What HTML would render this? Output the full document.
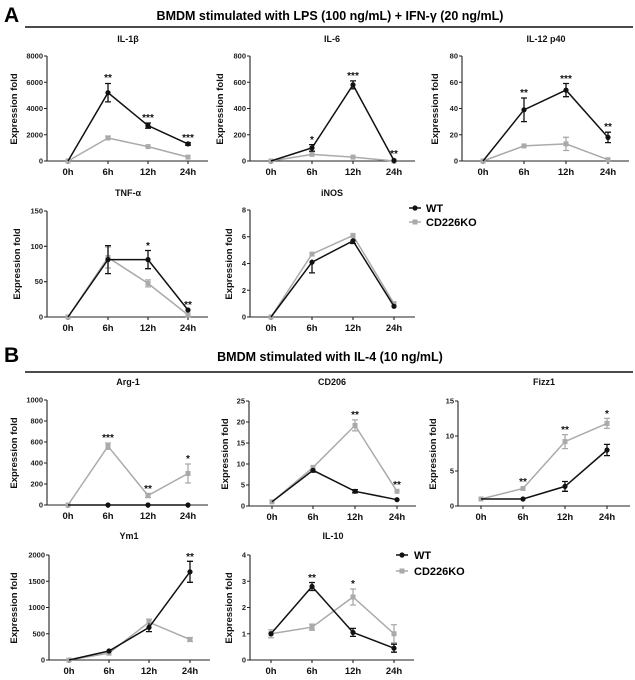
<!DOCTYPE html>
<html><head><meta charset="utf-8"><style>
body{margin:0;background:#fff}
svg{display:block;font-family:"Liberation Sans",sans-serif;font-weight:bold}
.ax{stroke:#222;stroke-width:1.1;fill:none}
.w{stroke:#111;stroke-width:1.5;fill:none}
.k{stroke:#aaa;stroke-width:1.5;fill:none}
.we{stroke:#111;stroke-width:1.3;fill:none}
.ke{stroke:#aaa;stroke-width:1.3;fill:none}
.yl{font-size:7.5px;text-anchor:end;fill:#222}
.xl{font-size:9.5px;text-anchor:middle;fill:#111}
.ti{font-size:9px;text-anchor:middle;fill:#111}
.yt{font-size:9.5px;text-anchor:middle;fill:#111}
.st{font-size:10px;text-anchor:middle;fill:#111}
.wm{fill:#111}.km{fill:#aaa}
</style></head><body>
<svg width="635" height="680" viewBox="0 0 635 680">
<!-- Header A -->
<text x="4" y="22" font-size="21">A</text>
<text x="330" y="20" font-size="12.5" text-anchor="middle">BMDM stimulated with LPS (100 ng/mL) + IFN-γ  (20 ng/mL)</text>
<line x1="25" y1="27" x2="633" y2="27" stroke="#111" stroke-width="1.5"/>
<!-- Header B -->
<text x="4" y="362" font-size="21">B</text>
<text x="330" y="361" font-size="12.5" text-anchor="middle">BMDM stimulated with IL-4 (10 ng/mL)</text>
<line x1="25" y1="372" x2="633" y2="372" stroke="#111" stroke-width="1.5"/>

<!-- IL-1b -->
<g transform="translate(47,161)">
<text class="ti" x="81" y="-119">IL-1β</text>
<path class="ax" d="M0,-105V0H161M-3,-105H0M-3,-78.75H0M-3,-52.5H0M-3,-26.25H0M-3,0H0M21,0v3M61,0v3M101,0v3M141,0v3"/>
<text class="yl" x="-4" y="-102.5">8000</text><text class="yl" x="-4" y="-76">6000</text><text class="yl" x="-4" y="-50">4000</text><text class="yl" x="-4" y="-23.5">2000</text><text class="yl" x="-4" y="2.5">0</text>
<text class="xl" x="21" y="14">0h</text><text class="xl" x="61" y="14">6h</text><text class="xl" x="101" y="14">12h</text><text class="xl" x="141" y="14">24h</text>
<text class="yt" transform="translate(-30,-52) rotate(-90)">Expression fold</text>
<polyline class="k" points="21,0 61,-23 101,-14.4 141,-3.9"/>
<path class="ke" d="M61,-25V-21M58,-25h6"/>
<rect class="km" x="18.5" y="-2.5" width="5" height="5"/><rect class="km" x="58.5" y="-25.5" width="5" height="5"/><rect class="km" x="98.5" y="-16.9" width="5" height="5"/><rect class="km" x="138.5" y="-6.4" width="5" height="5"/>
<polyline class="w" points="21,0 61,-68.3 101,-35.4 141,-17.1"/>
<path class="we" d="M61,-77.5V-59.1M58,-77.5h6M58,-59.1h6M101,-38V-32.8M98,-38h6M98,-32.8h6M141,-18.4V-15.8M138,-18.4h6M138,-15.8h6"/>
<circle class="wm" cx="61" cy="-68.3" r="2.6"/><circle class="wm" cx="101" cy="-35.4" r="2.6"/><circle class="wm" cx="141" cy="-17.1" r="2.6"/>
<text class="st" x="61" y="-80">**</text><text class="st" x="101" y="-40">***</text><text class="st" x="141" y="-20">***</text>
</g>

<!-- IL-6 -->
<g transform="translate(250,161)">
<text class="ti" x="82" y="-119">IL-6</text>
<path class="ax" d="M0,-105V0H165M-3,-105H0M-3,-78.75H0M-3,-52.5H0M-3,-26.25H0M-3,0H0M21,0v3M62,0v3M103,0v3M144,0v3"/>
<text class="yl" x="-4" y="-102.5">800</text><text class="yl" x="-4" y="-76">600</text><text class="yl" x="-4" y="-50">400</text><text class="yl" x="-4" y="-23.5">200</text><text class="yl" x="-4" y="2.5">0</text>
<text class="xl" x="21" y="14">0h</text><text class="xl" x="62" y="14">6h</text><text class="xl" x="103" y="14">12h</text><text class="xl" x="144" y="14">24h</text>
<text class="yt" transform="translate(-27,-52) rotate(-90)">Expression fold</text>
<polyline class="k" points="21,0 62,-6.6 103,-3.9 144,0"/>
<rect class="km" x="18.5" y="-2.5" width="5" height="5"/><rect class="km" x="59.5" y="-9.1" width="5" height="5"/><rect class="km" x="100.5" y="-6.4" width="5" height="5"/><rect class="km" x="141.5" y="-2.5" width="5" height="5"/>
<polyline class="w" points="21,0 62,-13.1 103,-76.1 144,-0.5"/>
<path class="we" d="M62,-16.4V-9.8M59,-16.4h6M59,-9.8h6M103,-80.1V-72.1M100,-80.1h6M100,-72.1h6"/>
<circle class="wm" cx="62" cy="-13.1" r="2.6"/><circle class="wm" cx="103" cy="-76.1" r="2.6"/><circle class="wm" cx="144" cy="-0.5" r="2.6"/>
<text class="st" x="62" y="-18">*</text><text class="st" x="103" y="-82">***</text><text class="st" x="144" y="-4">**</text>
</g>

<!-- IL-12 -->
<g transform="translate(462,161)">
<text class="ti" x="84" y="-119">IL-12 p40</text>
<path class="ax" d="M0,-105V0H167M-3,-105H0M-3,-78.75H0M-3,-52.5H0M-3,-26.25H0M-3,0H0M21,0v3M62,0v3M104,0v3M146,0v3"/>
<text class="yl" x="-4" y="-102.5">80</text><text class="yl" x="-4" y="-76">60</text><text class="yl" x="-4" y="-50">40</text><text class="yl" x="-4" y="-23.5">20</text><text class="yl" x="-4" y="2.5">0</text>
<text class="xl" x="21" y="14">0h</text><text class="xl" x="62" y="14">6h</text><text class="xl" x="104" y="14">12h</text><text class="xl" x="146" y="14">24h</text>
<text class="yt" transform="translate(-24,-52) rotate(-90)">Expression fold</text>
<polyline class="k" points="21,0 62,-15.1 104,-17.1 146,-1.3"/>
<path class="ke" d="M104,-23.7V-10.5M101,-23.7h6M101,-10.5h6"/>
<rect class="km" x="18.5" y="-2.5" width="5" height="5"/><rect class="km" x="59.5" y="-17.6" width="5" height="5"/><rect class="km" x="101.5" y="-19.6" width="5" height="5"/><rect class="km" x="143.5" y="-3.8" width="5" height="5"/>
<polyline class="w" points="21,0 62,-51.2 104,-70.9 146,-23.6"/>
<path class="we" d="M62,-63V-39.4M59,-63h6M59,-39.4h6M104,-77.5V-64.3M101,-77.5h6M101,-64.3h6M146,-28.8V-18.4M143,-28.8h6M143,-18.4h6"/>
<circle class="wm" cx="62" cy="-51.2" r="2.6"/><circle class="wm" cx="104" cy="-70.9" r="2.6"/><circle class="wm" cx="146" cy="-23.6" r="2.6"/>
<text class="st" x="62" y="-65">**</text><text class="st" x="104" y="-79">***</text><text class="st" x="146" y="-31">**</text>
</g>

<!-- TNF -->
<g transform="translate(47,317)">
<text class="ti" x="81" y="-121">TNF-α</text>
<path class="ax" d="M0,-106V0H161M-3,-106H0M-3,-70.7H0M-3,-35.3H0M-3,0H0M21,0v3M61,0v3M101,0v3M141,0v3"/>
<text class="yl" x="-4" y="-103.5">150</text><text class="yl" x="-4" y="-68">100</text><text class="yl" x="-4" y="-33">50</text><text class="yl" x="-4" y="2.5">0</text>
<text class="xl" x="21" y="14">0h</text><text class="xl" x="61" y="14">6h</text><text class="xl" x="101" y="14">12h</text><text class="xl" x="141" y="14">24h</text>
<text class="yt" transform="translate(-27,-53) rotate(-90)">Expression fold</text>
<polyline class="k" points="21,0 61,-59.5 101,-33.6 141,-2.1"/>
<path class="ke" d="M61,-70V-49M58,-70h6M58,-49h6M101,-37.1V-30.1M98,-37.1h6M98,-30.1h6"/>
<rect class="km" x="18.5" y="-2.5" width="5" height="5"/><rect class="km" x="58.5" y="-62" width="5" height="5"/><rect class="km" x="98.5" y="-36.1" width="5" height="5"/><rect class="km" x="138.5" y="-4.6" width="5" height="5"/>
<polyline class="w" points="21,0 61,-57.4 101,-57.4 141,-7"/>
<path class="we" d="M61,-71.4V-43.4M58,-71.4h6M58,-43.4h6M101,-66.5V-48.3M98,-66.5h6M98,-48.3h6"/>
<circle class="wm" cx="61" cy="-57.4" r="2.6"/><circle class="wm" cx="101" cy="-57.4" r="2.6"/><circle class="wm" cx="141" cy="-7" r="2.6"/>
<text class="st" x="101" y="-68">*</text><text class="st" x="141" y="-9">**</text>
</g>

<!-- iNOS -->
<g transform="translate(250,317)">
<text class="ti" x="82" y="-121">iNOS</text>
<path class="ax" d="M0,-107V0H165M-3,-107H0M-3,-80.25H0M-3,-53.5H0M-3,-26.75H0M-3,0H0M21,0v3M62,0v3M103,0v3M144,0v3"/>
<text class="yl" x="-4" y="-104.5">8</text><text class="yl" x="-4" y="-78">6</text><text class="yl" x="-4" y="-51">4</text><text class="yl" x="-4" y="-24">2</text><text class="yl" x="-4" y="2.5">0</text>
<text class="xl" x="21" y="14">0h</text><text class="xl" x="62" y="14">6h</text><text class="xl" x="103" y="14">12h</text><text class="xl" x="144" y="14">24h</text>
<text class="yt" transform="translate(-18,-53) rotate(-90)">Expression fold</text>
<polyline class="k" points="21,0 62,-62.9 103,-81.6 144,-13.4"/>
<rect class="km" x="18.5" y="-2.5" width="5" height="5"/><rect class="km" x="59.5" y="-65.4" width="5" height="5"/><rect class="km" x="100.5" y="-84.1" width="5" height="5"/><rect class="km" x="141.5" y="-15.9" width="5" height="5"/>
<polyline class="w" points="21,0 62,-54.8 103,-76.2 144,-10.7"/>
<path class="we" d="M62,-57.5V-44.1M59,-44.1h6M103,-78.9V-73.5M100,-73.5h6"/>
<circle class="wm" cx="62" cy="-54.8" r="2.6"/><circle class="wm" cx="103" cy="-76.2" r="2.6"/><circle class="wm" cx="144" cy="-10.7" r="2.6"/>
</g>
<!-- Legend A -->
<line x1="409" y1="208" x2="421" y2="208" stroke="#111" stroke-width="1.5"/><circle cx="415" cy="208" r="2.6" fill="#111"/>
<text x="426" y="212" font-size="11">WT</text>
<line x1="409" y1="222" x2="421" y2="222" stroke="#aaa" stroke-width="1.5"/><rect x="412.5" y="219.5" width="5" height="5" fill="#aaa"/>
<text x="426" y="226" font-size="11">CD226KO</text>

<!-- Arg-1 -->
<g transform="translate(47,505)">
<text class="ti" x="81" y="-120">Arg-1</text>
<path class="ax" d="M0,-105V0H161M-3,-105H0M-3,-84H0M-3,-63H0M-3,-42H0M-3,-21H0M-3,0H0M21,0v3M61,0v3M101,0v3M141,0v3"/>
<text class="yl" x="-4" y="-102.5">1000</text><text class="yl" x="-4" y="-81.5">800</text><text class="yl" x="-4" y="-60.5">600</text><text class="yl" x="-4" y="-39.5">400</text><text class="yl" x="-4" y="-18.5">200</text><text class="yl" x="-4" y="2.5">0</text>
<text class="xl" x="21" y="14">0h</text><text class="xl" x="61" y="14">6h</text><text class="xl" x="101" y="14">12h</text><text class="xl" x="141" y="14">24h</text>
<text class="yt" transform="translate(-30,-52) rotate(-90)">Expression fold</text>
<polyline class="k" points="21,0 61,-58.8 101,-9.5 141,-31.5"/>
<path class="ke" d="M61,-62V-55.6M58,-62h6M58,-55.6h6M101,-11.6V-7.4M98,-11.6h6M98,-7.4h6M141,-41V-22M138,-41h6M138,-22h6"/>
<rect class="km" x="18.5" y="-2.5" width="5" height="5"/><rect class="km" x="58.5" y="-61.3" width="5" height="5"/><rect class="km" x="98.5" y="-12" width="5" height="5"/><rect class="km" x="138.5" y="-34" width="5" height="5"/>
<polyline class="w" points="21,0 61,0 101,0 141,0"/>
<circle class="wm" cx="61" cy="0" r="2.6"/><circle class="wm" cx="101" cy="0" r="2.6"/><circle class="wm" cx="141" cy="0" r="2.6"/>
<text class="st" x="61" y="-64">***</text><text class="st" x="101" y="-13">**</text><text class="st" x="141" y="-43">*</text>
</g>

<!-- CD206 -->
<g transform="translate(249,506)">
<text class="ti" x="83" y="-121">CD206</text>
<path class="ax" d="M0,-105V0H167M-3,-105H0M-3,-84H0M-3,-63H0M-3,-42H0M-3,-21H0M-3,0H0M23,0v3M64,0v3M106,0v3M148,0v3"/>
<text class="yl" x="-4" y="-102.5">25</text><text class="yl" x="-4" y="-81.5">20</text><text class="yl" x="-4" y="-60.5">15</text><text class="yl" x="-4" y="-39.5">10</text><text class="yl" x="-4" y="-18.5">5</text><text class="yl" x="-4" y="2.5">0</text>
<text class="xl" x="23" y="14">0h</text><text class="xl" x="64" y="14">6h</text><text class="xl" x="106" y="14">12h</text><text class="xl" x="148" y="14">24h</text>
<text class="yt" transform="translate(-21,-52) rotate(-90)">Expression fold</text>
<polyline class="k" points="23,-4.2 64,-38.6 106,-80.6 148,-14.7"/>
<path class="ke" d="M106,-86.1V-75.1M103,-86.1h6M103,-75.1h6"/>
<rect class="km" x="20.5" y="-6.7" width="5" height="5"/><rect class="km" x="61.5" y="-41.1" width="5" height="5"/><rect class="km" x="103.5" y="-83.1" width="5" height="5"/><rect class="km" x="145.5" y="-17.2" width="5" height="5"/>
<polyline class="w" points="23,-4.2 64,-35.7 106,-14.7 148,-6.3"/>
<path class="we" d="M64,-37.5V-33.9M61,-33.9h6M106,-16.3V-13.1M103,-16.3h6M103,-13.1h6"/>
<circle class="wm" cx="64" cy="-35.7" r="2.6"/><circle class="wm" cx="106" cy="-14.7" r="2.6"/><circle class="wm" cx="148" cy="-6.3" r="2.6"/>
<text class="st" x="106" y="-88">**</text><text class="st" x="148" y="-18">**</text>
</g>

<!-- Fizz1 -->
<g transform="translate(458,506)">
<text class="ti" x="86" y="-121">Fizz1</text>
<path class="ax" d="M0,-105V0H172M-3,-105H0M-3,-70H0M-3,-35H0M-3,0H0M23,0v3M65,0v3M107,0v3M149,0v3"/>
<text class="yl" x="-4" y="-102.5">15</text><text class="yl" x="-4" y="-67.5">10</text><text class="yl" x="-4" y="-32.5">5</text><text class="yl" x="-4" y="2.5">0</text>
<text class="xl" x="23" y="14">0h</text><text class="xl" x="65" y="14">6h</text><text class="xl" x="107" y="14">12h</text><text class="xl" x="149" y="14">24h</text>
<text class="yt" transform="translate(-22,-52) rotate(-90)">Expression fold</text>
<polyline class="k" points="23,-7 65,-17.5 107,-64.4 149,-82.6"/>
<path class="ke" d="M107,-71.4V-57.4M104,-71.4h6M104,-57.4h6M149,-87.6V-77.6M146,-87.6h6M146,-77.6h6"/>
<rect class="km" x="20.5" y="-9.5" width="5" height="5"/><rect class="km" x="62.5" y="-20" width="5" height="5"/><rect class="km" x="104.5" y="-66.9" width="5" height="5"/><rect class="km" x="146.5" y="-85.1" width="5" height="5"/>
<polyline class="w" points="23,-7 65,-7 107,-19.6 149,-56"/>
<path class="we" d="M107,-24.5V-14.7M104,-24.5h6M104,-14.7h6M149,-61.6V-50.4M146,-61.6h6M146,-50.4h6"/>
<circle class="wm" cx="65" cy="-7" r="2.6"/><circle class="wm" cx="107" cy="-19.6" r="2.6"/><circle class="wm" cx="149" cy="-56" r="2.6"/>
<text class="st" x="65" y="-21">**</text><text class="st" x="107" y="-73">**</text><text class="st" x="149" y="-89">*</text>
</g>

<!-- Ym1 -->
<g transform="translate(49,660)">
<text class="ti" x="80" y="-121">Ym1</text>
<path class="ax" d="M0,-105V0H161M-3,-105H0M-3,-78.75H0M-3,-52.5H0M-3,-26.25H0M-3,0H0M20,0v3M60,0v3M100,0v3M141,0v3"/>
<text class="yl" x="-4" y="-102.5">2000</text><text class="yl" x="-4" y="-76">1500</text><text class="yl" x="-4" y="-50">1000</text><text class="yl" x="-4" y="-23.5">500</text><text class="yl" x="-4" y="2.5">0</text>
<text class="xl" x="20" y="14">0h</text><text class="xl" x="60" y="14">6h</text><text class="xl" x="100" y="14">12h</text><text class="xl" x="141" y="14">24h</text>
<text class="yt" transform="translate(-32,-52) rotate(-90)">Expression fold</text>
<polyline class="k" points="20,0 60,-6.8 100,-37.8 141,-20.5"/>
<path class="ke" d="M100,-40.8V-34.8M97,-40.8h6M141,-22.5V-18.5M138,-22.5h6M138,-18.5h6"/>
<rect class="km" x="17.5" y="-2.5" width="5" height="5"/><rect class="km" x="57.5" y="-9.3" width="5" height="5"/><rect class="km" x="97.5" y="-40.3" width="5" height="5"/><rect class="km" x="138.5" y="-23" width="5" height="5"/>
<polyline class="w" points="20,0 60,-9 100,-32.6 141,-88.2"/>
<path class="we" d="M100,-36.8V-28.4M97,-28.4h6M141,-98.7V-77.7M138,-98.7h6M138,-77.7h6"/>
<circle class="wm" cx="60" cy="-9" r="2.6"/><circle class="wm" cx="100" cy="-32.6" r="2.6"/><circle class="wm" cx="141" cy="-88.2" r="2.6"/>
<text class="st" x="141" y="-100">**</text>
</g>

<!-- IL-10 -->
<g transform="translate(250,660)">
<text class="ti" x="83" y="-121">IL-10</text>
<path class="ax" d="M0,-105V0H164M-3,-105H0M-3,-78.75H0M-3,-52.5H0M-3,-26.25H0M-3,0H0M21,0v3M62,0v3M103,0v3M144,0v3"/>
<text class="yl" x="-4" y="-102.5">4</text><text class="yl" x="-4" y="-76">3</text><text class="yl" x="-4" y="-50">2</text><text class="yl" x="-4" y="-23.5">1</text><text class="yl" x="-4" y="2.5">0</text>
<text class="xl" x="21" y="14">0h</text><text class="xl" x="62" y="14">6h</text><text class="xl" x="103" y="14">12h</text><text class="xl" x="144" y="14">24h</text>
<text class="yt" transform="translate(-18,-52) rotate(-90)">Expression fold</text>
<polyline class="k" points="21,-26.25 62,-32.8 103,-63 144,-26.25"/>
<path class="ke" d="M21,-30.25V-22.25M18,-30.25h6M18,-22.25h6M62,-35.8V-29.8M59,-35.8h6M59,-29.8h6M103,-71V-55M100,-71h6M100,-55h6M144,-35.25V-17.25M141,-35.25h6M141,-17.25h6"/>
<rect class="km" x="18.5" y="-28.75" width="5" height="5"/><rect class="km" x="59.5" y="-35.3" width="5" height="5"/><rect class="km" x="100.5" y="-65.5" width="5" height="5"/><rect class="km" x="141.5" y="-28.75" width="5" height="5"/>
<polyline class="w" points="21,-26.25 62,-73.5 103,-27.6 144,-11.8"/>
<path class="we" d="M62,-77.5V-69.5M59,-77.5h6M59,-69.5h6M103,-31.6V-23.6M100,-31.6h6M100,-23.6h6M144,-15.8V-7.8M141,-15.8h6M141,-7.8h6"/>
<circle class="wm" cx="21" cy="-26.25" r="2.6"/><circle class="wm" cx="62" cy="-73.5" r="2.6"/><circle class="wm" cx="103" cy="-27.6" r="2.6"/><circle class="wm" cx="144" cy="-11.8" r="2.6"/>
<text class="st" x="62" y="-79">**</text><text class="st" x="103" y="-73">*</text>
</g>
<!-- Legend B -->
<line x1="396" y1="555" x2="408" y2="555" stroke="#111" stroke-width="1.5"/><circle cx="402" cy="555" r="2.6" fill="#111"/>
<text x="414" y="559" font-size="11">WT</text>
<line x1="396" y1="571" x2="408" y2="571" stroke="#aaa" stroke-width="1.5"/><rect x="399.5" y="568.5" width="5" height="5" fill="#aaa"/>
<text x="414" y="575" font-size="11">CD226KO</text>
</svg>
</body></html>
